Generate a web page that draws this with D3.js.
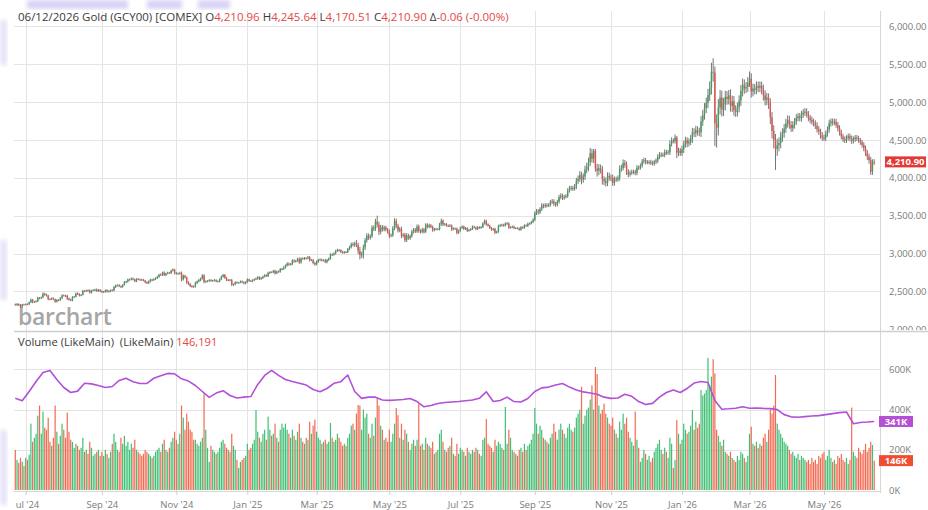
<!DOCTYPE html>
<html><head><meta charset="utf-8">
<script src="https://cdn.jsdelivr.net/npm/d3@7"></script>
<style>
html,body{margin:0;padding:0;background:#fff;}
svg{display:block;font-family:"Open Sans",sans-serif;}
</style></head><body>
<svg id="chart" width="928" height="510"></svg>
<script>
// ================= DATA =================
const titleText = "06/12/2026 Gold (GCY00) [COMEX]";
const volumeTitle = "Volume (LikeMain)  (LikeMain)";
const firstSession = "2024-06-21";
const lastSession = "2026-06-12";
const holidays = ["2024-07-04","2024-09-02","2024-11-28","2024-12-25","2025-01-01","2025-01-20","2025-02-17",
  "2025-04-18","2025-05-26","2025-06-19","2025-07-04","2025-09-01","2025-11-27","2025-12-25","2026-01-01",
  "2026-01-19","2026-02-16","2026-04-03","2026-05-25"];
const firstOpen = 2330;
// daily closes (USD/oz)
const closes = [
 2322,2334,2319,2298,2327,2326,
 2332,2330,2356,2391,2359,2364,2371,2414,2411,2422,2469,2459,2445,2400,2396,2409,2397,2364,2387,2384,2410,2447,
 2446,2442,2409,2390,2382,2427,2431,2472,2465,2447,2456,2507,2504,2514,2512,2484,2512,2517,2525,2505,2521,2503,
 2493,2495,2516,2497,2505,2516,2512,2558,2578,2582,2569,2559,2587,2622,2629,2657,2657,2672,2658,2634,
 2663,2658,2656,2653,2644,2622,2608,2630,2656,2649,2662,2674,2693,2721,2720,2748,2715,2736,2747,2743,2774,2788,2743,
 2736,2737,2743,2659,2706,2685,2618,2598,2573,2565,2563,2611,2632,2651,2670,2712,2627,2633,2638,2650,
 2640,2643,2650,2632,2633,2660,2694,2718,2680,2648,2652,2646,2587,2594,2622,2612,2617,2634,2621,2606,2624,
 2658,2640,2636,2648,2662,2670,2690,2663,2677,2696,2715,2703,2744,2755,2754,2771,2740,2763,2760,2794,2798,
 2815,2842,2866,2856,2861,2908,2898,2904,2928,2883,2935,2933,2939,2936,2951,2915,2916,2876,2858,
 2893,2918,2920,2910,2911,2889,2916,2933,2988,2984,3001,3034,3047,3044,3022,3011,3020,3019,3058,3085,3124,
 3114,3134,3114,3037,2982,2983,3082,3175,3237,3210,3229,3343,3327,3424,3381,3288,3349,3319,3344,3317,3288,
 3239,3241,3334,3431,3365,3306,3325,3235,3249,3178,3240,3203,3230,3290,3314,3294,3357,3300,3288,3318,3289,
 3381,3353,3373,3352,3310,3325,3322,3323,3386,3433,3385,3388,3369,3368,3368,3323,3332,3328,3274,3303,
 3338,3357,3326,3336,3301,3313,3324,3355,3344,3324,3347,3339,3350,3397,3431,3387,3368,3337,3314,3326,3275,3289,
 3363,3373,3381,3369,3396,3398,3342,3348,3356,3336,3336,3332,3315,3348,3339,3372,3365,3393,3397,3416,3448,
 3533,3559,3545,3587,3636,3626,3640,3634,3643,3680,3690,3659,3644,3685,3746,3764,3736,3749,3760,3833,3859,
 3866,3857,3887,3961,3985,4040,3976,4017,4110,4142,4208,4326,4251,4356,4125,4095,4126,4112,3981,3953,3930,4025,4003,
 4000,3932,3980,3977,4001,4115,4128,4195,4172,4080,4046,4067,4078,4078,4065,4134,4131,4163,4218,
 4232,4205,4207,4208,4198,4190,4210,4228,4278,4300,4305,4302,4340,4330,4338,4445,4490,4482,4533,4332,4360,4330,
 4375,4445,4495,4455,4480,4515,4600,4590,4630,4615,4600,4745,4830,4920,4990,5095,5185,5400,5390,4720,
 4660,4930,5060,4900,4970,5070,5040,5090,4950,5010,4890,4870,4930,5020,5150,5230,5180,5200,5260,
 5310,5140,5180,5160,5210,5190,5215,5170,5090,5030,5060,4990,4800,4620,4500,4380,4430,4460,4540,4590,4650,4720,
 4765,4700,4655,4700,4745,4790,4810,4790,4835,4860,4875,4840,4790,4765,4740,4720,4690,4640,4610,4560,4530,
 4525,4580,4635,4720,4745,4730,4740,4700,4655,4600,4545,4510,4495,4530,4550,4520,4490,4510,4530,4520,
 4495,4470,4435,4390,4330,4280,4235,4080,4210.96,4210.90
];
// upper wick above body (USD)
const wickUp = [
 10,12,8,14,9,11,
 8,12,10,15,9,11,13,16,12,10,18,14,12,10,9,13,11,8,12,10,14,15,
 12,10,15,9,14,11,10,13,16,12,9,14,11,10,13,15,9,12,10,14,11,9,
 10,12,9,14,11,10,13,15,12,11,14,10,9,16,12,14,11,13,10,12,
 12,14,10,11,13,9,12,15,11,10,13,12,14,11,16,13,18,12,14,11,13,15,12,
 14,12,16,20,18,15,13,17,14,12,15,18,13,16,12,15,14,13,11,12,
 12,10,13,11,14,12,15,13,11,12,10,13,18,11,12,9,8,10,11,12,10,
 13,11,14,12,10,13,12,11,14,12,13,10,15,12,11,14,16,12,13,15,14,
 18,15,20,16,14,18,16,15,17,22,14,16,15,13,18,16,14,12,15,
 16,14,15,13,14,18,13,15,17,14,16,15,17,14,13,15,12,14,16,17,20,
 25,22,45,30,50,40,35,30,32,28,25,30,28,35,76,40,30,28,25,22,20,
 30,25,28,35,30,28,25,30,22,25,30,22,20,25,24,22,28,25,20,22,20,
 20,18,22,16,18,15,16,14,20,28,18,16,15,14,22,16,14,12,15,14,
 16,14,13,15,12,14,13,16,14,12,15,13,12,18,20,15,13,12,14,12,16,13,
 18,16,14,12,15,20,12,13,14,12,11,12,13,14,12,15,13,16,14,15,18,
 25,30,28,26,30,24,28,25,22,26,30,28,24,26,30,32,28,25,27,30,35,
 30,28,32,40,45,50,40,42,50,55,60,70,54,25,25,60,55,50,45,40,50,48,45,
 40,45,38,35,32,50,45,48,40,45,35,30,32,28,30,35,28,25,30,
 35,30,28,25,30,28,26,30,35,40,32,28,35,30,30,50,45,30,40,20,40,35,
 50,45,48,40,42,50,60,55,58,50,48,70,65,68,70,80,90,120,180,80,
 120,110,100,90,85,80,75,70,80,75,70,68,65,70,75,80,70,65,70,
 95,70,65,60,65,60,58,55,60,65,60,55,60,70,75,80,85,75,70,65,60,58,
 60,55,50,48,45,50,48,45,50,48,45,44,42,40,45,42,40,44,42,40,45,
 40,42,45,48,40,38,42,40,38,40,36,35,38,34,36,35,40,38,36,35,
 35,32,30,34,36,38,40,42,35,34.68
];
// lower wick below body (USD)
const wickDn = [
 9,14,12,10,13,8,
 10,9,12,8,14,10,9,11,15,12,10,16,13,18,11,9,12,14,10,13,9,11,
 9,14,22,12,10,13,11,9,12,14,10,9,13,11,15,12,10,9,14,11,10,13,
 13,9,11,10,12,14,9,10,13,11,12,15,10,9,11,12,14,10,13,11,
 11,9,13,12,10,14,11,9,12,13,10,11,9,14,12,15,11,13,10,12,14,11,18,
 12,15,13,25,16,14,18,13,15,17,12,11,14,13,16,12,20,13,12,11,
 11,13,10,12,9,13,10,11,14,12,11,10,15,13,11,10,9,8,12,11,13,
 12,14,10,13,11,12,14,13,10,12,11,13,12,14,10,13,18,11,12,13,16,
 16,14,13,18,15,14,20,16,13,18,15,14,16,13,12,20,15,18,20,
 14,16,13,15,12,16,18,14,13,15,12,14,13,16,15,12,14,13,12,14,16,
 20,25,30,45,60,40,50,35,30,28,26,22,30,28,35,45,32,28,25,22,24,
 35,22,20,25,30,28,24,32,22,28,25,20,22,20,24,22,20,25,22,20,24,
 18,20,15,17,22,16,14,15,18,20,24,16,14,15,16,25,14,13,20,15,
 14,12,16,13,15,12,14,13,12,16,14,12,13,12,15,18,14,13,12,14,18,12,
 14,12,15,13,12,14,16,13,12,14,12,11,14,13,12,13,12,14,13,12,14,
 20,24,30,22,25,28,22,24,20,22,24,30,26,22,24,28,30,25,22,24,28,
 28,30,26,35,40,38,60,40,45,50,55,50,50,55,45,80,60,55,70,50,45,40,42,
 45,40,35,30,28,40,35,30,38,42,40,30,28,30,32,30,25,22,28,
 30,28,25,30,28,26,30,28,32,30,28,26,30,28,25,35,30,25,30,70,45,40,
 40,48,45,50,42,48,55,50,52,55,50,60,58,62,65,70,80,85,120,300,
 260,100,95,90,85,80,75,70,75,80,70,65,60,65,70,75,70,60,65,
 60,80,65,60,55,58,60,65,70,75,70,80,90,100,110,276,90,80,70,65,60,55,
 55,52,48,45,50,46,44,42,48,45,42,40,42,44,40,42,45,40,42,44,40,
 38,40,36,38,42,40,36,38,40,42,38,36,35,34,36,38,42,36,35,34,
 32,34,36,40,42,45,48,42,40,40.39
];
// daily volume (thousands of contracts)
const volumes = [
 199,150,135,160,140,120,
 160,150,175,330,240,260,280,370,420,280,390,310,300,360,240,220,260,420,290,230,270,330,
 300,260,385,290,250,240,210,230,220,200,210,260,190,200,180,240,210,170,180,190,200,170,
 190,170,200,180,160,190,230,280,240,200,190,260,230,270,220,240,200,230,210,250,
 200,190,180,170,180,200,190,180,170,160,170,190,200,210,190,230,250,200,190,210,240,260,290,
 250,230,280,420,360,300,380,340,300,290,250,250,230,220,240,260,480,300,210,140,
 220,200,190,180,190,210,240,250,230,210,200,190,280,220,200,150,110,140,150,160,170,
 230,200,210,230,250,398,290,260,240,280,300,250,365,300,270,280,330,260,240,300,330,
 310,330,300,280,260,300,270,250,290,330,260,240,230,260,250,340,280,320,350,
 290,260,250,230,240,250,230,240,333,260,240,250,280,260,240,220,230,220,260,280,320,
 330,300,380,423,420,300,400,360,380,280,260,330,270,360,458,420,320,300,250,260,240,
 300,240,280,330,408,372,260,330,250,300,280,240,200,230,250,220,250,428,220,230,200,
 260,230,220,210,240,180,190,200,280,300,240,200,190,210,220,260,180,170,230,180,
 210,200,190,170,210,190,180,200,190,210,200,180,170,250,260,353,230,220,210,190,250,220,
 240,230,210,200,413,230,300,260,200,190,180,170,200,210,190,230,200,220,230,250,280,
 408,330,280,320,300,260,250,240,230,260,280,330,290,250,300,330,300,280,260,310,330,
 300,290,310,360,380,400,514,330,370,400,410,450,520,400,612,577,420,380,400,430,380,360,330,
 320,360,300,280,260,340,300,380,330,360,290,260,240,220,390,250,210,140,160,
 200,180,150,170,140,160,190,210,230,250,200,180,210,190,160,260,230,110,150,348,280,230,
 250,330,300,280,290,320,398,300,340,310,330,497,470,480,497,657,520,564,651,580,
 300,270,240,220,250,190,180,170,190,160,150,140,170,150,190,180,160,140,170,
 280,315,230,220,240,210,230,220,260,280,240,300,400,380,420,572,330,300,280,260,240,230,
 220,200,180,190,170,160,180,150,170,160,150,140,150,130,160,140,150,130,170,160,180,
 190,150,170,200,160,140,150,130,170,160,180,150,140,160,130,150,410,190,170,160,
 210,190,180,200,230,190,210,240,224,146.191
];
// open interest (thousands), one reading every 4th session
const oiStep = 4;
const openInterest = [
 456,444,490,540,585,595,550,510,485,492,531,528,520,510,515,545,556,539,530,530,
 556,568,580,578,553,542,520,490,461,482,494,470,458,462,465,525,570,595,570,550,
 540,531,522,500,489,505,531,539,572,490,456,462,462,448,446,448,450,455,440,414,
 420,430,435,438,440,444,448,456,489,440,445,462,440,438,455,490,508,512,522,530,
 512,498,488,483,476,462,456,458,476,466,440,425,431,462,485,497,485,505,532,540,
 535,445,402,404,407,414,407,408,406,405,400,375,364,362,365,368,370,375,380,385,
 388,330,336,338,341
];
const priceTicks = [2000,2500,3000,3500,4000,4500,5000,5500,6000];
const volumeTicks = [0,200000,400000,600000];
const monthTicks = ["2024-07","2024-09","2024-11","2025-01","2025-03","2025-05","2025-07","2025-09","2025-11","2026-01","2026-03","2026-05"];

// ================= BUILD =================
const parse = d3.utcParse("%Y-%m-%d");
const keyFmt = d3.utcFormat("%Y-%m-%d");
const monFmt = d3.utcFormat("%Y-%m");
const holidaySet = new Set(holidays);
const dates = [];
for (let d = parse(firstSession); d <= parse(lastSession); d = d3.utcDay.offset(d, 1)) {
  const wd = d.getUTCDay();
  if (wd === 0 || wd === 6 || holidaySet.has(keyFmt(d))) continue;
  dates.push(d);
}
const lens = [dates.length, closes.length, wickUp.length, wickDn.length, volumes.length];
if (new Set(lens).size !== 1) throw new Error("length mismatch " + lens.join(","));

const bars = dates.map((date, i) => {
  const o = i ? closes[i - 1] : firstOpen, c = closes[i];
  return {date, i, o, c, h: Math.max(o, c) + wickUp[i], l: Math.min(o, c) - wickDn[i], v: volumes[i] * 1000, up: c >= o};
});
const N = bars.length;

const L = 14, R = 880, TOP = 11, PB = 331, VT = 333, VB = 491;
const x = d3.scaleLinear().domain([0, N - 1]).range([15.3, 874.2]);
const yP = d3.scaleLinear().domain([2000, 6000]).range([329.3, 26.4]);
const yV = d3.scaleLinear().domain([0, 600000]).range([490, 369.4]);

const GREEN = "#3e9e60", RED = "#e2544a", VGREEN = "#41bf75", VRED = "#f26a52", PURPLE = "#b34fd8";
const GRID = "#e4e4e4";

const svg = d3.select("#chart");
const defs = svg.append("defs");
defs.append("clipPath").attr("id", "cp").append("rect").attr("x", L).attr("y", TOP).attr("width", R - L).attr("height", PB - TOP);
defs.append("clipPath").attr("id", "cv").append("rect").attr("x", L).attr("y", VT).attr("width", R - L).attr("height", VB - VT);
defs.append("clipPath").attr("id", "cx").append("rect").attr("x", 16).attr("y", VB).attr("width", R - 6).attr("height", 20);
defs.append("clipPath").attr("id", "cy").append("rect").attr("x", R).attr("y", 0).attr("width", 48).attr("height", PB - 1);
defs.append("filter").attr("id", "blur").append("feGaussianBlur").attr("stdDeviation", 2.2);

svg.append("rect").attr("width", 928).attr("height", 510).attr("fill", "#fff");

// screenshot smudges (lavender blurred areas)
const smudge = svg.append("g").attr("filter", "url(#blur)").attr("fill", "#d9d3f6");
[[27,0,101,9],[147,0,35,9],[198,0,32,9]].forEach(r => smudge.append("rect").attr("x", r[0]).attr("y", r[1]).attr("width", r[2]).attr("height", r[3]));
const smudge2 = svg.append("g").attr("filter", "url(#blur)").attr("fill", "#e6e2f8");
[[0,20,7,45],[0,240,7,60],[0,430,7,75]].forEach(r => smudge2.append("rect").attr("x", r[0]).attr("y", r[1]).attr("width", r[2]).attr("height", r[3]));

// month indices
const monthIdx = monthTicks.map(m => bars.findIndex(b => monFmt(b.date) === m));

// grid
const grid = svg.append("g").attr("stroke", GRID).attr("stroke-width", 1).attr("shape-rendering", "crispEdges");
monthIdx.forEach(i => grid.append("line").attr("x1", Math.round(x(i)) + 0.5).attr("x2", Math.round(x(i)) + 0.5).attr("y1", TOP).attr("y2", VB));
priceTicks.filter(t => t > 2000).forEach(t => grid.append("line").attr("x1", L).attr("x2", R).attr("y1", Math.round(yP(t)) + 0.5).attr("y2", Math.round(yP(t)) + 0.5));
volumeTicks.filter(t => t > 0).forEach(t => grid.append("line").attr("x1", L).attr("x2", R).attr("y1", Math.round(yV(t)) + 0.5).attr("y2", Math.round(yV(t)) + 0.5));

// watermark
svg.append("text").attr("x", 18).attr("y", 325).attr("font-size", 23).attr("font-weight", 600)
  .attr("fill", "#a6a6a6").attr("letter-spacing", -0.3).text("barchart");

// candles
const cg = svg.append("g").attr("clip-path", "url(#cp)");
cg.append("g").selectAll("line").data(bars).join("line")
  .attr("x1", d => x(d.i)).attr("x2", d => x(d.i))
  .attr("y1", d => yP(d.h)).attr("y2", d => yP(d.l))
  .attr("stroke", "#666").attr("stroke-width", 0.9);
cg.append("g").selectAll("rect").data(bars).join("rect")
  .attr("x", d => x(d.i) - 0.7).attr("width", 1.4)
  .attr("y", d => yP(Math.max(d.o, d.c)))
  .attr("height", d => Math.max(0.9, Math.abs(yP(d.o) - yP(d.c))))
  .attr("fill", d => d.up ? GREEN : RED);

// volume bars
const vg = svg.append("g").attr("clip-path", "url(#cv)");
vg.selectAll("rect").data(bars).join("rect")
  .attr("x", d => x(d.i) - 0.6).attr("width", 1.2)
  .attr("y", d => yV(d.v)).attr("height", d => yV(0) - yV(d.v))
  .attr("fill", d => d.up ? VGREEN : VRED);

// open interest line
const oiPts = openInterest.map((v, k) => [Math.min(k * oiStep, N - 1), v * 1000]);
vg.append("path").datum(oiPts)
  .attr("d", d3.line().x(d => x(d[0])).y(d => yV(d[1])).curve(d3.curveLinear))
  .attr("fill", "none").attr("stroke", PURPLE).attr("stroke-width", 1.6).attr("stroke-linejoin", "round");

// frame lines
svg.append("line").attr("x1", R + 0.5).attr("x2", R + 0.5).attr("y1", TOP).attr("y2", VB + 2).attr("stroke", "#d6d6d6");
svg.append("line").attr("x1", L).attr("x2", R).attr("y1", VB + 0.5).attr("y2", VB + 0.5).attr("stroke", "#d6d6d6");

// price axis (clipped so the 2,000 label is cut by the pane separator)
const pAx = svg.append("g").attr("clip-path", "url(#cy)").append("g").attr("transform", `translate(${R},0)`)
  .call(d3.axisRight(yP).tickValues(priceTicks).tickFormat(d3.format(",.2f")).tickSize(0).tickPadding(9));
pAx.select(".domain").remove();
pAx.selectAll("text").attr("fill", "#7a7a7a").attr("font-size", 9.5).attr("font-family", "Open Sans");

// separator between panes
svg.append("line").attr("x1", L).attr("x2", 928).attr("y1", PB + 0.5).attr("y2", PB + 0.5).attr("stroke", "#cfcfcf").attr("stroke-width", 1.5);

// volume axis
const vAx = svg.append("g").attr("transform", `translate(${R},0)`)
  .call(d3.axisRight(yV).tickValues(volumeTicks).tickFormat(d => d3.format("d")(d / 1000) + "K").tickSize(0).tickPadding(9));
vAx.select(".domain").remove();
vAx.selectAll("text").attr("fill", "#7a7a7a").attr("font-size", 9.5).attr("font-family", "Open Sans");

// x axis (clipped at the plot's left edge, like the cut "Jul '24")
const tFmt = d3.utcFormat("%b '%y");
const xAx = svg.append("g").attr("clip-path", "url(#cx)").append("g").attr("transform", `translate(0,${VB})`)
  .call(d3.axisBottom(x).tickValues(monthIdx).tickFormat(i => tFmt(bars[i].date)).tickSize(4).tickPadding(6));
xAx.select(".domain").remove();
xAx.selectAll(".tick line").attr("stroke", "#cfcfcf");
xAx.selectAll("text").attr("fill", "#7a7a7a").attr("font-size", 9.5).attr("font-family", "Open Sans");

// last-value tags
const last = bars[N - 1], prev = bars[N - 2];
function tag(x0, w, yc, fill, label) {
  svg.append("rect").attr("x", x0).attr("y", yc - 5.5).attr("width", w).attr("height", 11).attr("fill", fill);
  svg.append("text").attr("x", x0 + w / 2).attr("y", yc).attr("dy", "0.35em").attr("text-anchor", "middle")
    .attr("fill", "#fff").attr("font-size", 9.5).attr("font-weight", 700).text(label);
}
tag(885, 41, yP(last.c), "#e53935", d3.format(",.2f")(last.c));
const lastOI = openInterest[openInterest.length - 1];
tag(879, 34, yV(lastOI * 1000), "#b44fd6", d3.format("d")(lastOI) + "K");
tag(879, 34, yV(last.v), "#f04e33", d3.format("d")(Math.round(last.v / 1000)) + "K");

// header
const f2 = d3.format(",.2f");
const delta = +(last.c - prev.c).toFixed(2);
const pct = delta / prev.c * 100;
const sgn = delta < 0 ? "-" : "";
const VALRED = "#e5483f", DARK = "#3a3a3a";
const hdr = svg.append("text").attr("x", 18).attr("y", 21).attr("font-size", 11.5).attr("fill", DARK).style("white-space", "pre");
const parts = [
  [titleText + " O", DARK], [f2(last.o), VALRED], [" H", DARK], [f2(last.h), VALRED],
  [" L", DARK], [f2(last.l), VALRED], [" C", DARK], [f2(last.c), VALRED],
  [" Δ", DARK], [sgn + Math.abs(delta).toFixed(2), VALRED], [" (" + sgn + Math.abs(pct).toFixed(2) + "%)", VALRED]
];
parts.forEach(p => hdr.append("tspan").attr("fill", p[1]).text(p[0]));

const vh = svg.append("text").attr("x", 18).attr("y", 346).attr("font-size", 11.2).attr("fill", DARK).style("white-space", "pre");
vh.append("tspan").text(volumeTitle + " ");
vh.append("tspan").attr("fill", VALRED).text(d3.format(",")(Math.round(last.v)));
</script>
</body></html>
